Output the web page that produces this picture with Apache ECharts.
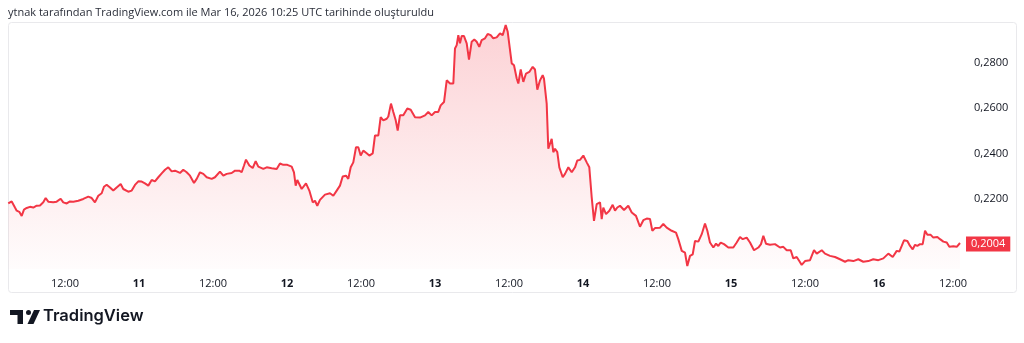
<!DOCTYPE html>
<html>
<head>
<meta charset="utf-8">
<script src="https://cdn.jsdelivr.net/npm/echarts@6/dist/echarts.min.js"></script>
<style>
  html, body { margin: 0; padding: 0; background: #fff; }
  #chart { width: 1024px; height: 343px; }
</style>
</head>
<body>
<div id="chart"></div>
<script>
// hours since Mar 10 00:00
const hours = [
  2.8, 3.36, 3.89, 4.17, 4.59, 4.98, 5.35, 5.79, 6.32, 6.86, 7.41, 7.95, 8.48, 8.87, 9.29, 10.1, 10.65, 11.3, 11.72, 12.28,
  12.81, 13.35, 14.16, 14.97, 15.78, 16.33, 16.86, 17.4, 17.95, 18.32, 18.76, 19.3, 19.83, 20.38, 21.03, 21.45, 22.26, 22.82, 23.35, 23.89,
  24.44, 24.97, 25.51, 26.06, 26.59, 27.13, 27.68, 28.22, 28.75, 29.3, 29.84, 30.65, 31.18, 31.73, 32.27, 32.92, 33.36, 33.89, 34.43, 34.98,
  35.79, 36.32, 37.13, 37.67, 38.22, 39.03, 39.57, 40.26, 40.65, 41.03, 41.35, 41.89, 42.44, 42.92, 43.35, 44.16, 44.71, 45.52, 46.33, 46.86,
  47.4, 48.05, 48.76, 49.13, 49.41, 49.67, 50.38, 51.08, 51.62, 52.17, 52.54, 52.91, 53.35, 54.16, 54.97, 55.51, 56.06, 56.59, 57.03, 57.57,
  57.94, 58.33, 58.75, 59.19, 59.56, 59.95, 60.37, 60.92, 61.35, 61.9, 62.27, 62.81, 63.19, 63.62, 64.17, 64.43, 64.86, 65.24, 65.63, 65.95,
  66.32, 66.86, 67.51, 68.06, 68.76, 69.57, 70.38, 70.91, 71.46, 72.0, 72.53, 72.92, 73.46, 73.9, 74.43, 74.97, 75.24, 75.52, 75.78, 76.05,
  76.33, 76.7, 77.14, 77.51, 77.95, 78.37, 78.76, 79.18, 79.57, 80.11, 80.54, 81.03, 81.45, 82.0, 82.54, 82.98, 83.46, 83.79, 84.05, 84.44,
  84.81, 85.25, 85.51, 85.9, 86.32, 86.76, 87.29, 87.84, 88.21, 88.59, 89.03, 89.46, 89.67, 90.11, 90.37, 90.92, 91.18, 91.46, 91.83, 92.16,
  92.71, 93.08, 93.62, 94.17, 94.7, 95.07, 95.51, 96.05, 96.6, 97.02, 97.41, 97.78, 98.22, 98.76, 99.03, 99.29, 99.73, 100.27, 100.81, 101.19,
  101.56, 102.0, 102.65, 103.34, 103.9, 104.59, 105.24, 105.78, 106.33, 106.86, 107.24, 107.67, 108.49, 109.02, 109.57, 110.38, 111.08, 111.45, 112.01, 112.54,
  112.91, 113.35, 113.79, 114.16, 114.7, 115.25, 115.78, 116.16, 116.59, 117.13, 117.57, 117.94, 118.33, 118.86, 119.56, 120.37, 120.92, 121.46, 121.9, 122.54,
  123.08, 123.73, 124.43, 124.86, 125.24, 125.67, 126.32, 127.13, 127.94, 128.48, 129.03, 129.68, 130.1, 130.65, 131.07, 131.46, 132.0, 132.81, 133.46, 133.9,
  134.71, 135.24, 136.05, 136.86, 137.67, 138.49, 139.02, 139.83, 140.64, 141.45, 142.26, 143.07, 143.89, 144.7, 145.51, 146.22, 146.87, 147.29, 147.68, 148.05,
  148.59, 149.03, 149.46, 149.84, 150.21, 150.65, 151.08, 151.46, 151.84, 152.38, 152.81, 153.46, 153.89, 154.43, 154.98, 155.4, 156.05, 156.6, 157.13
]
const prices = [
  0.2179, 0.2188, 0.2161, 0.2147, 0.2142, 0.2124, 0.2152, 0.2159, 0.2164, 0.2161, 0.2169, 0.2170, 0.2184, 0.2203, 0.2187, 0.2184, 0.2187, 0.2200, 0.2184, 0.2179,
  0.2188, 0.2187, 0.2191, 0.2199, 0.2209, 0.2203, 0.2184, 0.2213, 0.2224, 0.2253, 0.2262, 0.2250, 0.2236, 0.2250, 0.2265, 0.2243, 0.2231, 0.2236, 0.2261, 0.2277,
  0.2276, 0.2268, 0.2258, 0.2283, 0.2277, 0.2295, 0.2312, 0.2328, 0.2339, 0.2321, 0.2324, 0.2314, 0.2328, 0.2317, 0.2302, 0.2270, 0.2288, 0.2317, 0.2310, 0.2295,
  0.2288, 0.2295, 0.2320, 0.2302, 0.2310, 0.2314, 0.2324, 0.2324, 0.2317, 0.2347, 0.2373, 0.2347, 0.2336, 0.2366, 0.2342, 0.2332, 0.2339, 0.2335, 0.2332, 0.2356,
  0.2350, 0.2350, 0.2342, 0.2317, 0.2258, 0.2283, 0.2243, 0.2268, 0.2236, 0.2184, 0.2191, 0.2169, 0.2195, 0.2218, 0.2224, 0.2213, 0.2236, 0.2258, 0.2298, 0.2302,
  0.2288, 0.2339, 0.2361, 0.2428, 0.2428, 0.2391, 0.2413, 0.2401, 0.2391, 0.2401, 0.2480, 0.2480, 0.2561, 0.2547, 0.2554, 0.2564, 0.2621, 0.2584, 0.2547, 0.2502,
  0.2569, 0.2569, 0.2599, 0.2594, 0.2561, 0.2559, 0.2569, 0.2584, 0.2569, 0.2584, 0.2584, 0.2613, 0.2628, 0.2724, 0.2710, 0.2710, 0.2865, 0.2880, 0.2924, 0.2888,
  0.2920, 0.2920, 0.2888, 0.2816, 0.2895, 0.2905, 0.2895, 0.2872, 0.2902, 0.2910, 0.2929, 0.2924, 0.2910, 0.2914, 0.2932, 0.2924, 0.2969, 0.2939, 0.2939, 0.2799,
  0.2791, 0.2732, 0.2710, 0.2772, 0.2717, 0.2754, 0.2761, 0.2784, 0.2772, 0.2683, 0.2724, 0.2747, 0.2732, 0.2621, 0.2421, 0.2465, 0.2406, 0.2421, 0.2406, 0.2339,
  0.2295, 0.2310, 0.2339, 0.2317, 0.2339, 0.2369, 0.2372, 0.2391, 0.2361, 0.2339, 0.2206, 0.2102, 0.2176, 0.2184, 0.2110, 0.2161, 0.2132, 0.2147, 0.2173, 0.2147,
  0.2161, 0.2169, 0.2150, 0.2169, 0.2139, 0.2124, 0.2076, 0.2105, 0.2112, 0.2110, 0.2058, 0.2070, 0.2072, 0.2088, 0.2072, 0.2058, 0.2050, 0.2021, 0.1969, 0.1961,
  0.1902, 0.1947, 0.1954, 0.2013, 0.2010, 0.2043, 0.2090, 0.2058, 0.2006, 0.1984, 0.2001, 0.1991, 0.2006, 0.1999, 0.1984, 0.1984, 0.2006, 0.2031, 0.2021, 0.2028,
  0.2006, 0.1972, 0.1984, 0.1999, 0.2036, 0.2001, 0.1996, 0.1999, 0.1984, 0.1987, 0.1972, 0.1972, 0.1936, 0.1942, 0.1924, 0.1907, 0.1924, 0.1928, 0.1972, 0.1957,
  0.1972, 0.1957, 0.1947, 0.1942, 0.1932, 0.1921, 0.1928, 0.1924, 0.1932, 0.1921, 0.1924, 0.1932, 0.1928, 0.1936, 0.1957, 0.1942, 0.1969, 0.1966, 0.1991, 0.2016,
  0.2013, 0.1991, 0.1976, 0.1996, 0.1991, 0.1999, 0.1999, 0.2058, 0.2040, 0.2040, 0.2028, 0.2031, 0.2021, 0.2010, 0.2006, 0.1987, 0.1990, 0.1987, 0.2004
]
// axis labels
const timeTicks = [12, 24, 36, 48, 60, 72, 84, 96, 108, 120, 132, 144, 156]
const priceTicks = [0.22, 0.24, 0.26, 0.28]
const lastPrice = 0.2004

const red = '#f23645'
const chart = echarts.init(document.getElementById('chart'))

const option = {
  animation: false,
  backgroundColor: '#ffffff',
  textStyle: { fontFamily: 'Open Sans' },
  grid: { left: 8, right: 59, top: 22, bottom: 74 },
  xAxis: {
    type: 'value',
    min: 2.76,
    max: 157.94,
    axisLine: { show: false },
    axisTick: { show: false },
    splitLine: { show: false },
    axisLabel: {
      customValues: timeTicks,
      margin: 9,
      fontSize: 11,
      color: '#131722',
      formatter: (v) => (v % 24 === 0 ? '{d|' + (10 + v / 24) + '}' : '12:00'),
      rich: { d: { fontWeight: 'bold', fontSize: 11, color: '#131722' } }
    }
  },
  yAxis: {
    type: 'value',
    position: 'right',
    min: 0.18889,
    max: 0.29822,
    axisLine: { show: false },
    axisTick: { show: false },
    splitLine: { show: false },
    axisLabel: {
      customValues: priceTicks,
      margin: 9,
      fontSize: 11,
      color: '#131722',
      formatter: (v) => v.toFixed(4).replace('.', ',')
    }
  },
  series: [
    {
      type: 'line',
      data: hours.map((h, i) => [h, prices[i]]),
      showSymbol: false,
      lineStyle: { color: red, width: 2 },
      itemStyle: { color: red },
      areaStyle: {
        color: new echarts.graphic.LinearGradient(0, 0, 0, 1, [
          { offset: 0, color: 'rgba(242,54,69,0.32)' },
          { offset: 1, color: 'rgba(242,54,69,0.02)' }
        ])
      },
      markLine: {
        silent: true,
        symbol: 'none',
        lineStyle: { color: 'rgba(0,0,0,0)', width: 0 },
        data: [{ yAxis: lastPrice }],
        label: {
          show: true,
          position: 'end',
          distance: 1,
          formatter: lastPrice.toFixed(4).replace('.', ','),
          color: '#fff',
          fontSize: 11,
          backgroundColor: red,
          padding: [2, 5, 2, 5]
        }
      }
    }
  ],
  graphic: [
    {
      type: 'text',
      left: 8,
      top: 7,
      style: {
        text: 'ytnak tarafından TradingView.com ile Mar 16, 2026 10:25 UTC tarihinde oluşturuldu',
        fontSize: 11,
        fontFamily: 'Open Sans',
        fill: '#2a2e39'
      }
    },
    {
      type: 'rect',
      shape: { x: 8.5, y: 22.5, width: 1008, height: 270, r: 3 },
      style: { fill: 'none', stroke: '#e9e9ec', lineWidth: 1 },
      silent: true
    },
    // TradingView logo
    {
      type: 'group',
      left: 10,
      top: 310,
      children: [
        { type: 'rect', shape: { x: 0, y: 0, width: 13, height: 5 }, style: { fill: '#131722' } },
        { type: 'rect', shape: { x: 7.5, y: 0, width: 5.5, height: 14 }, style: { fill: '#131722' } },
        { type: 'circle', shape: { cx: 18.5, cy: 2.5, r: 2.5 }, style: { fill: '#131722' } },
        { type: 'polygon', shape: { points: [[24, 0], [30, 0], [23.5, 14], [17.5, 14]] }, style: { fill: '#131722' } }
      ]
    },
    {
      type: 'text',
      left: 43,
      top: 308,
      style: {
        text: 'TradingView',
        fontSize: 16.5,
        fontWeight: 600,
        fontFamily: 'Inter',
        fill: '#131722'
      }
    }
  ]
}
chart.setOption(option)
</script>
</body>
</html>
